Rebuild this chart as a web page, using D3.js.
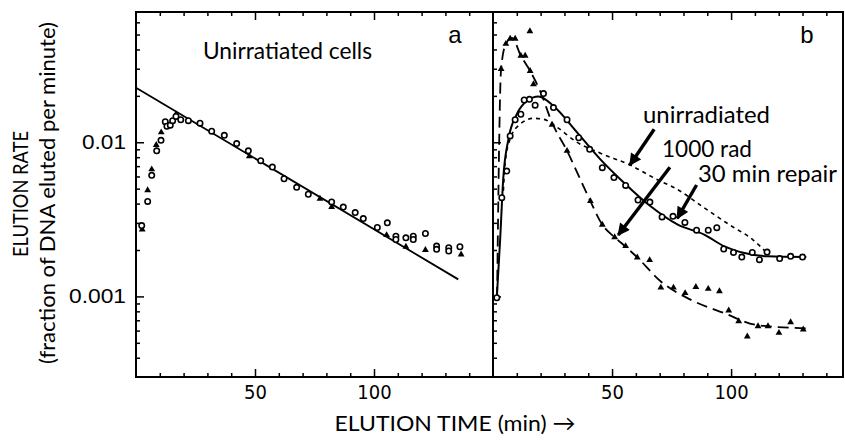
<!DOCTYPE html>
<html>
<head>
<meta charset="utf-8">
<script src="https://cdn.jsdelivr.net/npm/d3@7"></script>
<style>
  body { margin: 0; background: #fff; }
  svg { display: block; font-family: Lato, "Open Sans", sans-serif; }
  .tick line { stroke: #000; stroke-width: 1.5; }
  .tick text { fill: #000; }
</style>
</head>
<body>
<div id="chart"></div>
<script>
// panel a : unirradiated cells, [minutes, elution rate]
const aCircles = [[2.4,0.00288],[4.9,0.00413],[6.6,0.0061],[8.7,0.0088],[10.5,0.0103],[12.3,0.0136],[13.0,0.0127],
  [14.4,0.0129],[15.4,0.0138],[16.8,0.0147],[18.8,0.0140],[22.0,0.0138],[26.9,0.0133],[31.8,0.0118],[37.1,0.0111],
  [42.3,0.0098],[47.2,0.0088],[52.4,0.0076],[57.3,0.0069],[62.2,0.0058],[67.5,0.0051],[72.4,0.0046],[82.2,0.0041],
  [87.1,0.0038],[92.1,0.0035],[95.5,0.0032],[101.4,0.0028],[105.6,0.0030],[109.2,0.00246],[109.2,0.00234],
  [113.4,0.0024],[116.5,0.00246],[116.5,0.00234],[121.6,0.00256],[126.3,0.00212],[126.3,0.00202],[131.4,0.00207],
  [131.4,0.00197],[136.1,0.0021]];
const aTriangles = [[2.6,0.00272],[4.9,0.00488],[6.6,0.00667],[8.5,0.0096],[10.6,0.0116],[16.8,0.0152],[47.6,0.0081],
  [77.3,0.0043],[82.2,0.0038],[105.3,0.0025],[113.4,0.0021],[121.6,0.0020],[136.6,0.00187]];
const aFit = [[0,0.0226],[135.4,0.00129]];

// panel b : 1000 rad (triangles, dashed), 30 min repair (circles, solid), unirradiated (dotted)
const bTriangles = [[3.4,0.0299],[5.4,0.0435],[7.2,0.047],[9.3,0.047],[11.7,0.0364],[13.5,0.0364],[15.5,0.0525],
  [15.6,0.029],[17.0,0.0238],[24.8,0.013],[31.1,0.0088],[40.9,0.00415],[45.9,0.00292],[51.1,0.00242],[55.7,0.00212],
  [60.6,0.00179],[65.8,0.00172],[70.5,0.00114],[75.8,0.00114],[80.7,0.00105],[85.2,0.00115],[90.4,0.00112],
  [95.1,0.00108],[99.0,0.00081],[103.2,0.00069],[106.8,0.00055],[111.3,0.00064],[115.5,0.00064],[120.1,0.00058],
  [125.0,0.00068],[130.3,0.00061]];
const bDashed = [[1.7,0.00098],[3.4,0.0299],[5.4,0.0435],[8.0,0.0475],[11.7,0.0364],[15.6,0.029],[19.8,0.0215],
  [24.8,0.0134],[31.1,0.0088],[36.7,0.00574],[40.9,0.00415],[45.9,0.00292],[51.1,0.00242],[55.7,0.0021],
  [60.6,0.00179],[70.5,0.00125],[83.1,0.00095],[97.0,0.00078],[111.3,0.00065],[132.4,0.00062]];
const bCircles = [[1.6,0.00098],[3.7,0.00437],[5.8,0.0065],[7.2,0.011],[9.3,0.014],[11.7,0.0152],[13.1,0.0188],
  [15.3,0.019],[17.7,0.0174],[21.2,0.0207],[25.4,0.0168],[31.1,0.014],[36.0,0.0107],[40.6,0.009],[45.9,0.00684],
  [50.8,0.0059],[55.7,0.00525],[60.9,0.00422],[65.9,0.00409],[71.0,0.00328],[75.6,0.00331],[80.6,0.00302],
  [85.5,0.00269],[90.4,0.00269],[94.0,0.00279],[96.9,0.00203],[101.0,0.00193],[104.5,0.0018],[108.9,0.00193],
  [111.9,0.00173],[115.1,0.00194],[120.4,0.00176],[125.0,0.00182],[130.0,0.0018]];
const bSolid = [[1.6,0.00098],[3.0,0.00234],[4.3,0.0058],[6.5,0.0105],[10.0,0.0152],[14.2,0.0185],[19.1,0.0198],
  [25.4,0.0172],[35.3,0.0116],[45.1,0.00775],[55.0,0.00547],[66.2,0.00384],[77.6,0.00292],[88.7,0.00252],
  [97.2,0.00211],[105.6,0.00191],[115.5,0.00182],[131.6,0.0018]];
const bDotted = [[4.2,0.0043],[5.1,0.00738],[7.2,0.0105],[11.4,0.0131],[17.0,0.0143],[21.2,0.0141],[26.9,0.0125],
  [35.1,0.01004],[44.9,0.00852],[57.5,0.00712],[69.3,0.00569],[77.1,0.00498],[88.2,0.0038],[99.4,0.00291],
  [109.3,0.00232],[115.1,0.00191]];

const xTicks = d3.range(10, 150, 10);
const xLabels = [50, 100];
const yTicks = [0.0004,0.0005,0.0006,0.0007,0.0008,0.0009,0.001,0.002,0.003,0.004,0.005,0.006,0.007,0.008,0.009,
  0.01,0.02,0.03,0.04,0.05,0.06];
const yLabels = [0.001, 0.01];
// arrows [from, to] in panel b data space
const arrows = [
  [[67.7,0.01214],[57.5,0.00712]],
  [[74.3,0.00688],[52.6,0.0025]],
  [[85.5,0.00528],[77.4,0.00321]]
];

const W = 845, H = 443,
      yTop = 12, yBottom = 377,
      xa = d3.scaleLinear().domain([0,150]).range([136,493]),
      xb = d3.scaleLinear().domain([0,147]).range([493,843]),
      y = d3.scaleLog().domain([0.0003,0.07]).range([yBottom,yTop]);

const svg = d3.select('#chart').append('svg')
  .attr('width', W).attr('height', H);

svg.append('defs').append('marker')
  .attr('id','head').attr('viewBox','0 0 10 10').attr('refX',9).attr('refY',5)
  .attr('markerWidth',4).attr('markerHeight',3.6).attr('orient','auto')
  .append('path').attr('d','M0,0L10,5L0,10Z').attr('fill','#000');

// axes
function xAxes(x) {
  const b = svg.append('g').attr('transform','translate(0,' + yBottom + ')')
    .call(d3.axisBottom(x).tickValues(xTicks).tickSize(-4).tickPadding(8)
      .tickFormat(d => xLabels.includes(d) ? d : ''));
  const t = svg.append('g').attr('transform','translate(0,' + yTop + ')')
    .call(d3.axisTop(x).tickValues(xTicks).tickSize(-4).tickFormat(''));
  b.select('.domain').remove();
  t.select('.domain').remove();
  b.selectAll('.tick line').filter(d => d % 50 === 0).attr('y2', -8);
  t.selectAll('.tick line').filter(d => d % 50 === 0).attr('y2', 8);
  b.selectAll('text').style('font-family','"Liberation Sans Narrow", "DejaVu Sans Condensed", sans-serif')
    .style('font-size','20px');
}
xAxes(xa);
xAxes(xb);

function yAxis(x0, labels) {
  const g = svg.append('g').attr('transform','translate(' + x0 + ',0)')
    .call(d3.axisLeft(y).tickValues(yTicks).tickSize(-4).tickPadding(10)
      .tickFormat(d => labels && yLabels.includes(d) ? String(d) : ''));
  g.select('.domain').remove();
  g.selectAll('.tick line').filter(d => yLabels.includes(d)).attr('x2', 8);
  g.selectAll('text').style('font-size','20px')
    .attr('textLength', d => d === 0.01 ? 44 : 57).attr('lengthAdjust','spacingAndGlyphs');
}
yAxis(136, true);
yAxis(493, false);

// frames
svg.append('path')
  .attr('d', `M${xa(0)},${yTop}H${xb(147)}V${yBottom}H${xa(0)}Z M${xb(0)},${yTop}V${yBottom}`)
  .attr('fill','none').attr('stroke','#000').attr('stroke-width',2);

const line = x => d3.line().x(d => x(d[0])).y(d => y(d[1]));

function circles(data, x) {
  svg.append('g').selectAll('circle').data(data).enter().append('circle')
    .attr('cx', d => x(d[0])).attr('cy', d => y(d[1])).attr('r', 2.7)
    .attr('fill','#fff').attr('stroke','#000').attr('stroke-width',1.6);
}
function triangles(data, x) {
  svg.append('g').selectAll('path').data(data).enter().append('path')
    .attr('d', d3.symbol().type(d3.symbolTriangle).size(20))
    .attr('transform', d => 'translate(' + x(d[0]) + ',' + y(d[1]) + ')')
    .attr('fill','#000');
}

// panel a
svg.append('path').datum(aFit).attr('d', line(xa))
  .attr('fill','none').attr('stroke','#000').attr('stroke-width',1.8);
triangles(aTriangles, xa);
circles(aCircles, xa);

// panel b
svg.append('path').datum(bDotted).attr('d', line(xb).curve(d3.curveMonotoneX))
  .attr('fill','none').attr('stroke','#000').attr('stroke-width',1.6).attr('stroke-dasharray','4,4');
svg.append('path').datum(bDashed).attr('d', line(xb).curve(d3.curveMonotoneX))
  .attr('fill','none').attr('stroke','#000').attr('stroke-width',1.8).attr('stroke-dasharray','11,6');
svg.append('path').datum(bSolid).attr('d', line(xb).curve(d3.curveMonotoneX))
  .attr('fill','none').attr('stroke','#000').attr('stroke-width',2);
triangles(bTriangles, xb);
circles(bCircles, xb);

svg.append('g').selectAll('line').data(arrows).enter().append('line')
  .attr('x1', d => xb(d[0][0])).attr('y1', d => y(d[0][1]))
  .attr('x2', d => xb(d[1][0])).attr('y2', d => y(d[1][1]))
  .attr('stroke','#000').attr('stroke-width',3.4).attr('marker-end','url(#head)');

// texts
const txt = (x, yy, s, size, len, anchor) => {
  const t = svg.append('text').attr('x', x).attr('y', yy)
    .attr('text-anchor', anchor || 'start').style('font-size', size + 'px').text(s);
  if (len) t.attr('textLength', len).attr('lengthAdjust', 'spacingAndGlyphs');
  return t;
};

txt(203, 59, 'Unirratiated cells', 23, 169);
txt(643, 123, 'unirradiated', 23, 127);
txt(662, 157, '1000 rad', 23, 90);
txt(698, 182, '30 min repair', 23, 139);
txt(455, 43, 'a', 24, 0, 'middle').style('font-family','"Liberation Sans Narrow", sans-serif');
txt(807, 43, 'b', 24, 0, 'middle').style('font-family','"Liberation Sans Narrow", sans-serif');
txt(455, 431, 'ELUTION TIME (min) \u2192', 22, 241, 'middle');

svg.append('text').attr('transform','translate(19,194) rotate(-90)')
  .attr('text-anchor','middle').attr('dominant-baseline','central')
  .attr('textLength',126).attr('lengthAdjust','spacingAndGlyphs')
  .style('font-size','21px').text('ELUTION RATE');
svg.append('text').attr('transform','translate(46,193) rotate(-90)')
  .attr('text-anchor','middle').attr('dominant-baseline','central')
  .attr('textLength',342).attr('lengthAdjust','spacingAndGlyphs')
  .style('font-size','21px').text('(fraction of DNA eluted per minute)');
</script>
</body>
</html>
